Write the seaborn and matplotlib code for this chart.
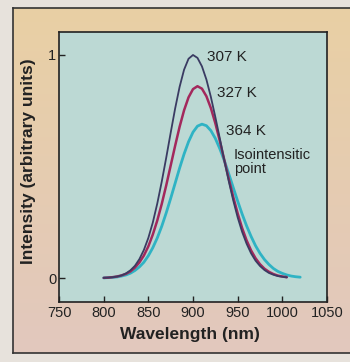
import numpy as np
import pandas as pd
import matplotlib
matplotlib.use("Agg")
import matplotlib.pyplot as plt
import seaborn as sns

# ---------------- data ----------------
wl_307 = [800, 805, 810, 815, 820, 825, 830, 835, 840, 845, 850, 855, 860, 865, 870,
          875, 880, 885, 890, 895, 900, 905, 910, 915, 920, 925, 930, 935, 940, 945,
          950, 955, 960, 965, 970, 975, 980, 985, 990, 995, 1000, 1005]
int_307 = [0.001, 0.002, 0.004, 0.007, 0.012, 0.021, 0.035, 0.055, 0.085, 0.126, 0.180,
           0.249, 0.334, 0.432, 0.539, 0.651, 0.760, 0.857, 0.934, 0.983, 1.000, 0.987,
           0.949, 0.890, 0.812, 0.722, 0.626, 0.529, 0.435, 0.349, 0.272, 0.207, 0.154,
           0.111, 0.078, 0.054, 0.036, 0.023, 0.015, 0.009, 0.006, 0.003]

wl_327 = [800, 805, 810, 815, 820, 825, 830, 835, 840, 845, 850, 855, 860, 865, 870,
          875, 880, 885, 890, 895, 900, 905, 910, 915, 920, 925, 930, 935, 940, 945,
          950, 955, 960, 965, 970, 975, 980, 985, 990, 995, 1000, 1005]
int_327 = [0.001, 0.002, 0.004, 0.007, 0.012, 0.019, 0.030, 0.047, 0.070, 0.101, 0.142,
           0.195, 0.258, 0.332, 0.415, 0.504, 0.593, 0.678, 0.752, 0.810, 0.847, 0.860,
           0.849, 0.815, 0.762, 0.694, 0.615, 0.530, 0.445, 0.364, 0.290, 0.224, 0.169,
           0.124, 0.089, 0.062, 0.042, 0.028, 0.018, 0.011, 0.007, 0.004]

wl_364 = [800, 805, 810, 815, 820, 825, 830, 835, 840, 845, 850, 855, 860, 865, 870,
          875, 880, 885, 890, 895, 900, 905, 910, 915, 920, 925, 930, 935, 940, 945,
          950, 955, 960, 965, 970, 975, 980, 985, 990, 995, 1000, 1005, 1010, 1015, 1020]
int_364 = [0.001, 0.002, 0.003, 0.005, 0.009, 0.014, 0.022, 0.034, 0.050, 0.071, 0.100,
           0.136, 0.180, 0.232, 0.292, 0.357, 0.425, 0.493, 0.556, 0.611, 0.654, 0.681,
           0.690, 0.683, 0.661, 0.626, 0.580, 0.527, 0.468, 0.406, 0.345, 0.287, 0.234,
           0.187, 0.145, 0.111, 0.083, 0.061, 0.043, 0.030, 0.021, 0.014, 0.009, 0.006,
           0.004]

series_names = ["307 K", "327 K", "364 K"]
x_ticks = [750, 800, 850, 900, 950, 1000, 1050]
y_ticks = [0, 1]
y_ticklabels = ["0", "1"]
x_label = "Wavelength (nm)"
y_label = "Intensity (arbitrary units)"
iso_label = "Isointensitic\npoint"

# ---------------- styling ----------------
sns.set_style("ticks")
narrow = ["Liberation Sans Narrow", "Liberation Sans", "DejaVu Sans"]
bold_family = ["Liberation Sans", "DejaVu Sans"]
plt.rcParams["font.family"] = narrow

line_colors = {"307 K": "#3a3b62", "327 K": "#a3285c", "364 K": "#2fb3c4"}
line_widths = {"307 K": 1.3, "327 K": 1.8, "364 K": 2.0}

fig = plt.figure(figsize=(3.5, 3.62), dpi=100)
fig.patch.set_facecolor("#e7e2dc")

# background panel with paper-like gradient
bg = fig.add_axes([13 / 350, 1 - 353 / 362, 1.0, (353 - 8) / 362], zorder=0)
grad = np.linspace(0, 1, 256).reshape(-1, 1)
top_c = np.array([233, 208, 164]) / 255
bot_c = np.array([226, 200, 190]) / 255
img = top_c[None, None, :] * (1 - grad[:, :, None]) + bot_c[None, None, :] * grad[:, :, None]
bg.imshow(img, aspect="auto", extent=[0, 1, 0, 1], origin="upper")
bg.set_xlim(0, 1)
bg.set_ylim(0, 1)
bg.set_xticks([])
bg.set_yticks([])
for side in ["left", "top", "bottom"]:
    bg.spines[side].set_color("#333333")
    bg.spines[side].set_linewidth(1.2)
bg.spines["right"].set_visible(False)

# main axes
ax = fig.add_axes([59 / 350, 1 - 301.5 / 362, (327 - 59) / 350, (301.5 - 32) / 362], zorder=1)
ax.set_facecolor("#bcd9d4")

frames = []
for name, xs, ys in [("307 K", wl_307, int_307), ("327 K", wl_327, int_327), ("364 K", wl_364, int_364)]:
    frames.append(pd.DataFrame({"Wavelength": xs, "Intensity": ys, "Temperature": name}))
df = pd.concat(frames, ignore_index=True)

for name in ["364 K", "327 K", "307 K"]:
    sub = df[df["Temperature"] == name]
    sns.lineplot(data=sub, x="Wavelength", y="Intensity", ax=ax, color=line_colors[name],
                 linewidth=line_widths[name], legend=False, sort=False)

ax.set_xlim(750, 1050)
ax.set_ylim(-0.105, 1.103)
ax.set_xticks(x_ticks)
ax.set_yticks(y_ticks)
ax.set_yticklabels(y_ticklabels)
ax.tick_params(direction="in", length=4.5, width=1.0, colors="#222222", labelsize=10.5)
ax.tick_params(axis="x", pad=3)
ax.tick_params(axis="y", pad=2)
for s in ax.spines.values():
    s.set_color("#222222")
    s.set_linewidth(1.2)

ax.set_xlabel(x_label, fontsize=12.5, fontweight="bold", family=bold_family, color="#222222")
ax.set_ylabel(y_label, fontsize=12.5, fontweight="bold", family=bold_family, color="#222222")
ax.xaxis.set_label_coords(0.49, -0.095)
ax.yaxis.set_label_coords(-0.085, 0.52)

txt_kw = dict(fontsize=11, color="#222222", ha="left", va="center")
ax.text(916, 0.99, series_names[0], **txt_kw)
ax.text(927, 0.83, series_names[1], **txt_kw)
ax.text(936.5, 0.66, series_names[2], **txt_kw)
ax.text(946, 0.585, iso_label, fontsize=10.5, color="#222222", ha="left", va="top",
        linespacing=1.0)

fig.savefig("out.png", dpi=100, facecolor=fig.get_facecolor())
